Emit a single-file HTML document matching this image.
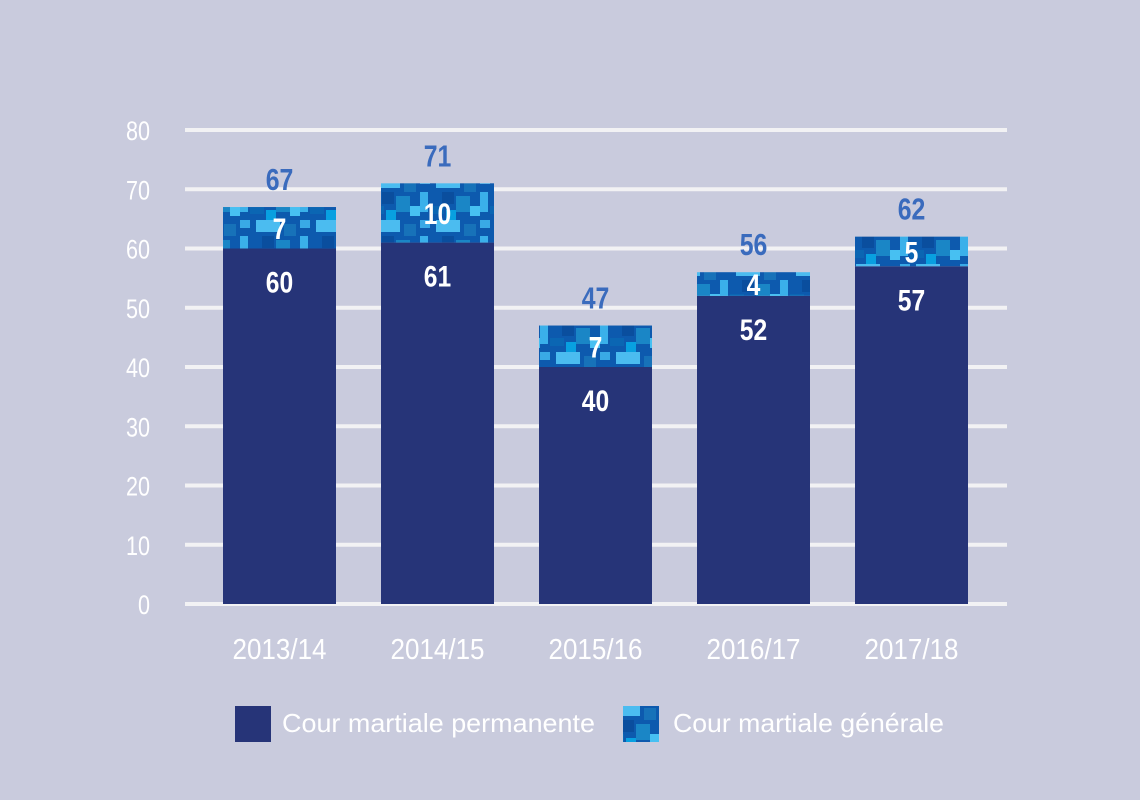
<!DOCTYPE html>
<html><head><meta charset="utf-8"><style>
body{margin:0;background:#c9cbdd;}
svg{display:block;font-family:"Liberation Sans Narrow","Liberation Sans",sans-serif;}
</style></head><body>
<svg id="chart" width="1140" height="800">
<defs>
<pattern id="camo" width="60" height="44" patternUnits="userSpaceOnUse">
<rect width="60" height="44" fill="#0d5aae"/>
<rect x="0" y="0" width="10" height="8" fill="#39a9e6"/>
<rect x="16" y="0" width="24" height="12" fill="#4bbcf0"/>
<rect x="44" y="4" width="12" height="12" fill="#1772b9"/>
<rect x="0" y="16" width="8" height="20" fill="#3ab0ea"/>
<rect x="22" y="16" width="12" height="12" fill="#0a4e9e"/>
<rect x="36" y="20" width="14" height="16" fill="#1a86c6"/>
<rect x="10" y="30" width="14" height="8" fill="#0b66b3"/>
<rect x="50" y="30" width="10" height="10" fill="#47c0f2"/>
<rect x="26" y="34" width="10" height="10" fill="#08a0e0"/>
</pattern>
</defs>
<g id="grid"></g><g id="bars"></g>
<g>
<rect x="235" y="706" width="36" height="36" fill="#263478"/>
<text x="282" y="732" font-size="26" fill="#fff" textLength="313" lengthAdjust="spacingAndGlyphs">Cour martiale permanente</text>
<rect x="623" y="706" width="36" height="36" fill="url(#camo)"/>
<text x="673" y="732" font-size="26" fill="#fff" textLength="271" lengthAdjust="spacingAndGlyphs">Cour martiale générale</text>
</g>
</svg>
<script>
const categories=["2013/14","2014/15","2015/16","2016/17","2017/18"];
const permanente=[60,61,40,52,57];
const generale=[7,10,7,4,5];
const totals=[67,71,47,56,62];
const yTicks=[0,10,20,30,40,50,60,70,80];
const NS="http://www.w3.org/2000/svg";
const y=v=>604-v*(474/80);
const xc=i=>279.5+i*158;
const grid=document.getElementById('grid'),bars=document.getElementById('bars');
function mk(tag,a,p){const e=document.createElementNS(NS,tag);for(const k in a)e.setAttribute(k,a[k]);p.appendChild(e);return e;}
function narrow(e,f){e.setAttribute('textLength',(e.getComputedTextLength()*f).toFixed(1));e.setAttribute('lengthAdjust','spacingAndGlyphs');}
yTicks.forEach(t=>{
 const l=mk('line',{x1:185,x2:1007,y1:y(t),y2:y(t),stroke:'#f2f2f4','stroke-width':4},grid);
 
 
 const tx=mk('text',{x:150,y:y(t)+10,'text-anchor':'end','font-size':27,fill:'#fff'},grid);
 tx.textContent=t;
 
 
 narrow(tx,0.8);
});
categories.forEach((c,i)=>{
 const x0=xc(i)-56.5;
 const b1=mk('rect',{x:x0,y:y(permanente[i]),width:113,height:y(0)-y(permanente[i]),fill:'#263478'},bars);
 
 
 const top=permanente[i]+generale[i];
 const b2=mk('rect',{x:x0,y:y(top),width:113,height:y(permanente[i])-y(top),fill:'url(#camo)'},bars);
 
 
 const l1=mk('text',{x:xc(i),y:y(permanente[i])+44,'text-anchor':'middle','font-size':30,'font-weight':'bold',fill:'#fff'},bars);
 l1.textContent=permanente[i];
 
 
 narrow(l1,0.82);
 const l2=mk('text',{x:xc(i),y:(y(top)+y(permanente[i]))/2+11,'text-anchor':'middle','font-size':30,'font-weight':'bold',fill:'#fff'},bars);
 l2.textContent=generale[i];
 
 
 narrow(l2,0.82);
 const l3=mk('text',{x:xc(i),y:y(top)-17,'text-anchor':'middle','font-size':31,'font-weight':'bold',fill:'#3a6bbd'},bars);
 l3.textContent=totals[i];
 
 
 narrow(l3,0.8);
 const xl=mk('text',{x:xc(i),y:659,'text-anchor':'middle','font-size':29,fill:'#fff'},bars);
 xl.textContent=c;
 
 
 xl.setAttribute('textLength','94');
 xl.setAttribute('lengthAdjust','spacingAndGlyphs');
});
</script>
</body></html>
